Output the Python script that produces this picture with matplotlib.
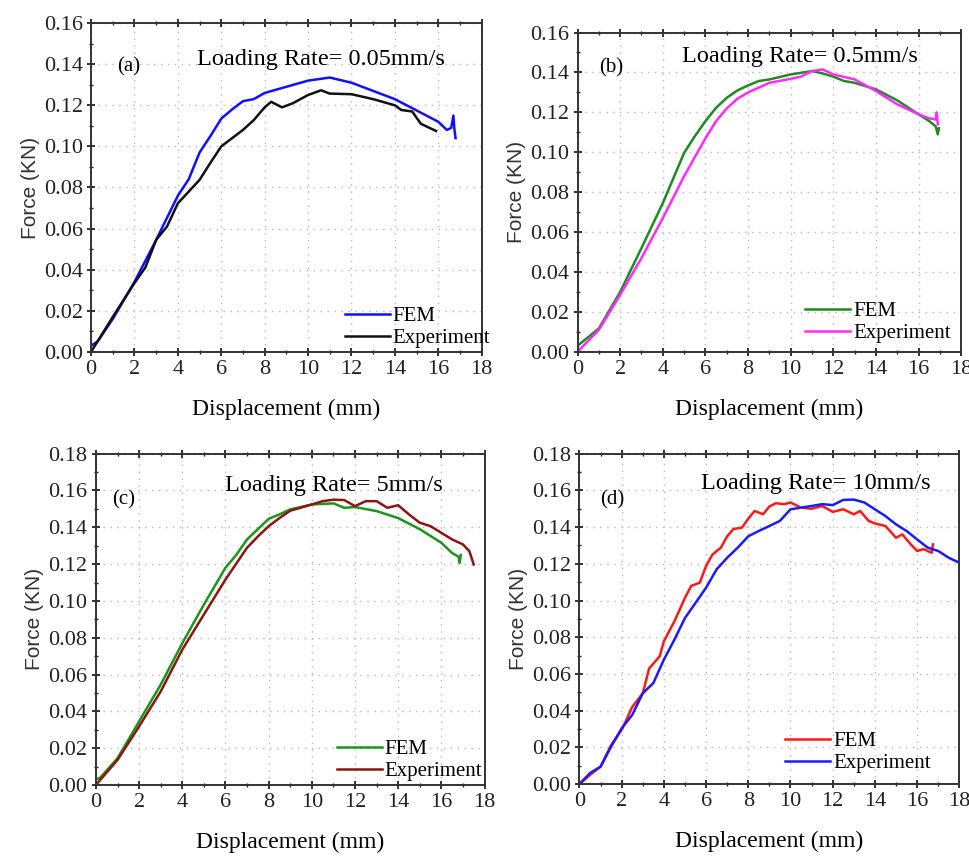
import matplotlib
matplotlib.use("Agg")
from matplotlib import pyplot as plt
from matplotlib.ticker import MultipleLocator

plt.rcParams["font.family"] = ["Liberation Serif", "DejaVu Serif"]

# (a) loading rate 0.05 mm/s
a_fem_x = [0, 0.3, 1, 2, 3, 4, 4.5, 5, 5.5, 6, 6.5, 7, 7.5, 8, 9, 10, 11, 12, 13, 14, 15, 16,
           16.4, 16.6, 16.7, 16.75, 16.8]
a_fem_y = [0.003, 0.005, 0.016, 0.034, 0.0545, 0.076, 0.084, 0.097, 0.105, 0.1135, 0.118, 0.122,
           0.123, 0.126, 0.129, 0.132, 0.1335, 0.131, 0.127, 0.123, 0.1175, 0.112,
           0.108, 0.109, 0.115, 0.108, 0.104]
a_exp_x = [0, 1, 2, 2.5, 3, 3.5, 4, 4.5, 5, 5.5, 6, 6.5, 7, 7.5, 8, 8.3, 8.8, 9.3, 10, 10.6, 11,
           12, 13, 14, 14.3, 14.8, 15.2, 15.5, 15.9]
a_exp_y = [0, 0.017, 0.0335, 0.041, 0.0545, 0.061, 0.0723, 0.078, 0.0837, 0.092, 0.100, 0.104,
           0.108, 0.1128, 0.119, 0.1217, 0.119, 0.121, 0.125, 0.1273, 0.1257,
           0.1254, 0.123, 0.120, 0.1177, 0.117, 0.111, 0.1095, 0.1075]

# (b) loading rate 0.5 mm/s
b_fem_x = [0, 1, 2, 3, 4, 5, 5.5, 6, 6.5, 7, 7.5, 8, 8.5, 9, 10, 11, 11.5, 12, 12.5, 13, 14, 15,
           16, 16.5, 16.8, 16.9, 16.95]
b_fem_y = [0.003, 0.0117, 0.030, 0.052, 0.0745, 0.0997, 0.108, 0.1156, 0.1223, 0.1273, 0.131,
           0.1335, 0.1357, 0.1365, 0.139, 0.1407, 0.1395, 0.1379, 0.1357, 0.1348, 0.1315, 0.126,
           0.119, 0.1156, 0.113, 0.109, 0.112]
b_exp_x = [0, 1, 2, 3, 4, 5, 6, 6.5, 7, 7.5, 8, 9, 10, 10.5, 11, 11.5, 12, 13, 14, 15, 16, 16.5,
           16.8, 16.85, 16.9]
b_exp_y = [0, 0.011, 0.0285, 0.047, 0.067, 0.088, 0.107, 0.1156, 0.122, 0.1268, 0.130, 0.1348,
           0.1368, 0.138, 0.1407, 0.1415, 0.139, 0.1365, 0.1307, 0.124, 0.119, 0.117,
           0.1164, 0.120, 0.114]

# (c) loading rate 5 mm/s
c_fem_x = [0, 0.2, 1, 2, 3, 4, 5, 6, 6.5, 7, 7.5, 8, 8.5, 9, 10, 11, 11.5, 12, 13, 14, 15, 16,
           16.5, 16.8, 16.85, 16.9]
c_fem_y = [0.003, 0.004, 0.0145, 0.0345, 0.0545, 0.077, 0.098, 0.118, 0.125, 0.1334, 0.139,
           0.1446, 0.147, 0.1497, 0.1524, 0.153, 0.1506, 0.151, 0.1488, 0.145, 0.139, 0.1316,
           0.126, 0.124, 0.1207, 0.125]
c_exp_x = [0, 1, 2, 3, 4, 5, 6, 7, 7.5, 8, 8.5, 9, 10, 10.5, 11, 11.5, 12, 12.5, 13, 13.5, 14,
           14.5, 15, 15.5, 16, 16.5, 17, 17.3, 17.5]
c_exp_y = [0, 0.0136, 0.0318, 0.0508, 0.0735, 0.0926, 0.1116, 0.1289, 0.135, 0.1406, 0.145,
           0.149, 0.1524, 0.1542, 0.155, 0.1548, 0.1515, 0.1542, 0.1542, 0.1506, 0.152,
           0.147, 0.1425, 0.1406, 0.137, 0.1334, 0.1307, 0.127, 0.1198]

# (d) loading rate 10 mm/s
d_fem_x = [0, 0.5, 1, 1.5, 2, 2.5, 3, 3.3, 3.8, 4, 4.5, 5, 5.3, 5.7, 6, 6.3, 6.7, 7, 7.3, 7.7, 8,
           8.3, 8.7, 9, 9.3, 9.7, 10, 10.5, 11, 11.5, 12, 12.5, 13, 13.3, 13.7, 14, 14.5, 15,
           15.3, 15.7, 16, 16.3, 16.7, 16.75]
d_fem_y = [0, 0.005, 0.0095, 0.0213, 0.0295, 0.042, 0.0495, 0.063, 0.0696, 0.0778, 0.0887,
           0.1015, 0.108, 0.1097, 0.1188, 0.125, 0.1288, 0.135, 0.139, 0.1397, 0.1446,
           0.1488, 0.147, 0.1512, 0.153, 0.1525, 0.1534, 0.1506, 0.150, 0.1515, 0.1483,
           0.1497, 0.147, 0.1488, 0.1434, 0.142, 0.1406, 0.1342, 0.136, 0.1306, 0.127,
           0.128, 0.126, 0.1306]
d_exp_x = [0, 0.5, 1, 1.5, 2, 2.5, 3, 3.5, 4, 4.5, 5, 5.5, 6, 6.5, 7, 7.5, 8, 8.5, 9, 9.5, 10,
           10.5, 11, 11.5, 12, 12.5, 13, 13.5, 14, 14.5, 15, 15.5, 16, 16.5, 17, 17.5, 18]
d_exp_y = [0, 0.006, 0.0095, 0.0204, 0.0304, 0.0377, 0.0495, 0.055, 0.0678, 0.0787, 0.0905,
           0.0987, 0.107, 0.117, 0.1233, 0.1288, 0.135, 0.1379, 0.1406, 0.1434, 0.1497,
           0.1506, 0.1515, 0.1525, 0.152, 0.1548, 0.155, 0.1534, 0.1497, 0.146, 0.1415,
           0.1379, 0.1333, 0.1288, 0.127, 0.1233, 0.1206]

panels = [
    # rect, ymax, tag, rate text, FEM, experiment, tag pos, rate pos, legend pos
    ([0.094, 0.589, 0.403, 0.384], 0.16, "(a)", "Loading Rate= 0.05mm/s",
     (a_fem_x, a_fem_y, "#1010ff"), (a_exp_x, a_exp_y, "#111111"),
     (0.066, 0.868), (0.588, 0.889), (0.65, 0.137)),
    ([0.596, 0.589, 0.396, 0.373], 0.16, "(b)", "Loading Rate= 0.5mm/s",
     (b_fem_x, b_fem_y, "#1f8a1f"), (b_exp_x, b_exp_y, "#ff2bff"),
     (0.057, 0.89), (0.58, 0.925), (0.593, 0.157)),
    ([0.099, 0.083, 0.401, 0.387], 0.18, "(c)", "Loading Rate= 5mm/s",
     (c_fem_x, c_fem_y, "#1a961a"), (c_exp_x, c_exp_y, "#8b1414"),
     (0.041, 0.862), (0.612, 0.905), (0.62, 0.136)),
    ([0.598, 0.084, 0.392, 0.386], 0.18, "(d)", "Loading Rate= 10mm/s",
     (d_fem_x, d_fem_y, "#ff1a1a"), (d_exp_x, d_exp_y, "#1a1aff"),
     (0.055, 0.86), (0.621, 0.911), (0.542, 0.158)),
]

fig = plt.figure(figsize=(9.69, 8.56), dpi=100)

for rect, ymax, tag, rate, fem, exp, tag_xy, rate_xy, leg_xy in panels:
    ax = fig.add_axes(rect)
    ax.plot(fem[0], fem[1], color=fem[2], lw=1.8, label="FEM")
    ax.plot(exp[0], exp[1], color=exp[2], lw=1.8, label="Experiment")
    ax.set_xlim(0, 18)
    ax.set_ylim(0, ymax)
    ax.xaxis.set_major_locator(MultipleLocator(2))
    ax.xaxis.set_minor_locator(MultipleLocator(1))
    ax.yaxis.set_major_locator(MultipleLocator(0.02))
    ax.yaxis.set_minor_locator(MultipleLocator(0.01))
    ax.yaxis.set_major_formatter(lambda v, p: f"{v:.2f}")
    ax.grid(True, which="major", color="#b8b8b8", ls=(0, (1, 4)), lw=1.0)
    ax.tick_params(which="both", top=True, direction="inout", labelsize=16,
                   colors="#222222", pad=3)
    ax.tick_params(which="major", length=6, width=1.3)
    ax.tick_params(which="minor", length=3.5, width=1.0)
    for s in ax.spines.values():
        s.set_linewidth(1.4)
        s.set_color("#333333")
    ax.set_xlabel("Displacement (mm)", fontsize=17, labelpad=14)
    ax.set_ylabel("Force (KN)", fontsize=15, family=["Liberation Sans", "DejaVu Sans"],
                  color="#333333", labelpad=3)
    ax.text(*tag_xy, tag, transform=ax.transAxes, fontsize=15, va="center")
    ax.text(*rate_xy, rate, transform=ax.transAxes, fontsize=17.5,
            ha="center", va="center")
    ax.legend(loc="upper left", bbox_to_anchor=leg_xy, frameon=False, fontsize=15,
              handlelength=2.15, handletextpad=0.15, labelspacing=0.1,
              borderaxespad=0, borderpad=0)

fig.savefig("out.png", dpi=100)
